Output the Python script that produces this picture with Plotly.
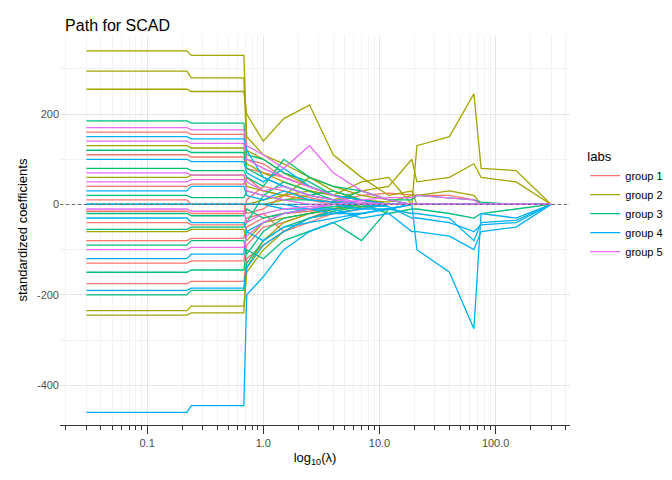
import plotly.graph_objects as go

# lambda grid shared by every path
lam = [0.03, 0.22, 0.24, 0.68, 0.72, 1.0, 1.5, 2.5, 4, 7, 12, 19, 21, 40, 65, 75, 150, 300]

group1 = [
    [-175, -175, -170, -170, -120, -90, -60, -40, -20, -10, 0, 0, 0, 0, 0, 0, 0, 0],
    [110, 110, 105, 105, 80, 70, 60, 40, 20, 10, 0, 0, 0, 0, 0, 0, 0, 0],
    [-130, -130, -125, -125, -90, -50, -40, -20, -10, 0, 0, 0, 0, 0, 0, 0, 0, 0],
    [40, 40, 45, 45, 60, 30, 20, 10, 5, 20, 25, 20, 20, 20, 10, 0, 0, 0],
    [-40, -40, -45, -45, -30, -20, -60, -30, -10, 0, 0, 0, 0, 0, 0, 0, 0, 0],
    [10, 10, 0, 0, -20, -10, 20, 10, 0, 0, 0, 0, 0, 0, 0, 0, 0, 0],
    [160, 160, 155, 155, 100, 90, 60, 40, 20, 10, 0, 0, 0, 0, 0, 0, 0, 0],
    [-80, -80, -75, -75, -50, -30, -20, -15, -10, 0, 0, 0, 0, 0, 0, 0, 0, 0],
    [-15, -15, -20, -20, 10, 40, 30, 15, 5, 0, 0, 0, 0, 0, 0, 0, 0, 0],
]
group2 = [
    [340, 340, 330, 330, 150, 110, 90, 60, 40, 20, 10, 0, 0, 0, 0, 0, 0, 0],
    [295, 295, 280, 280, 120, 100, 70, 40, 20, 10, 0, 0, 0, 0, 0, 0, 0, 0],
    [255, 255, 250, 250, 200, 140, 190, 220, 110, 60, 20, 30, 0, 0, 0, 0, 0, 0],
    [0, 0, 0, 0, 0, 10, 20, 30, 20, 50, 60, 0, 130, 150, 245, 80, 75, 0],
    [0, 0, 0, 0, 0, 0, 10, 20, 10, 30, 40, 100, 50, 60, 90, 60, 50, 0],
    [-235, -235, -225, -225, -150, -100, -60, -30, -20, -10, 0, 0, 0, 0, 0, 0, 0, 0],
    [-245, -245, -240, -240, -140, -80, -40, -20, -10, 0, 0, 0, 0, 0, 0, 0, 0, 0],
    [60, 60, 65, 65, 40, 30, 20, 60, 30, 10, 0, 0, 0, 0, 0, 0, 0, 0],
    [-60, -60, -55, -55, -80, -40, -30, -20, -10, -5, 0, 0, 0, 0, 0, 0, 0, 0],
    [130, 130, 125, 125, 90, 70, 50, 30, 20, 10, 5, 20, 20, 30, 20, 0, 0, 0],
]
group3 = [
    [185, 185, 180, 180, 110, 100, 70, 50, 20, 10, 0, 0, 0, 0, 0, 0, 0, 0],
    [-200, -200, -190, -190, -130, -80, -50, -30, -15, -5, 0, 0, 0, 0, 0, 0, 0, 0],
    [-150, -150, -145, -145, -100, -120, -80, -60, -40, -80, -10, 0, 0, 0, 0, 0, 0, 0],
    [80, 80, 75, 75, 60, 40, 100, 60, 40, 30, 10, 10, 20, 15, 10, 5, 0, 0],
    [-90, -90, -80, -80, -110, -60, -30, -20, -10, 0, -20, -10, -10, -20, -30, -20, -10, 0],
    [20, 20, 15, 15, 30, 20, 10, 10, 5, 30, 10, 0, 0, 0, 0, 0, 0, 0],
    [120, 120, 115, 115, 80, 60, 40, 20, 30, 10, 0, 0, 0, 0, 0, 0, 0, 0],
    [-20, -20, -25, -25, -10, -30, -20, -10, -5, 0, 0, 0, 0, 0, 0, 0, 0, 0],
    [-55, -55, -50, -50, -40, 20, 50, 30, 10, 0, 0, 0, 0, 0, 0, 0, 0, 0],
]
group4 = [
    [-460, -460, -445, -445, -200, -160, -100, -60, -40, -20, -10, 0, 0, 0, 0, 0, 0, 0],
    [0, 0, 0, 0, 0, 0, -10, -10, -20, -20, -10, 0, -100, -150, -275, -20, -30, 0],
    [0, 0, 0, 0, 0, 0, 0, -10, -10, -30, -20, -60, -60, -70, -100, -60, -50, 0],
    [-190, -190, -185, -185, -140, -90, -60, -30, -20, -10, 0, 0, 0, 0, 0, 0, 0, 0],
    [-120, -120, -110, -110, -60, -80, -50, -40, -30, -20, -10, 0, 0, 0, 0, 0, 0, 0],
    [100, 100, 95, 95, 70, 50, 80, 40, 20, 10, 0, 0, 0, 0, 0, 0, 0, 0],
    [30, 30, 40, 40, 20, 10, 30, 10, 5, 0, 0, 0, 0, 0, 0, 0, 0, 0],
    [-30, -30, -40, -40, -60, -40, -20, -10, 0, 0, -5, -30, -30, -40, -60, -45, -40, 0],
    [150, 150, 145, 145, 120, 60, 40, 20, 10, 0, 0, 0, 0, 0, 0, 0, 0, 0],
    [0, 0, 0, 0, 0, 0, 0, 0, 0, -10, -10, -20, -20, -30, -80, -40, -35, 0],
]
group5 = [
    [170, 170, 165, 165, 130, 110, 80, 130, 70, 30, 10, 0, 0, 0, 0, 0, 0, 0],
    [140, 140, 135, 135, 100, 80, 60, 40, 20, 0, 0, 0, 0, 0, 0, 0, 0, 0],
    [-100, -100, -95, -95, -70, -40, -20, -10, 0, 0, 0, 0, 0, 0, 0, 0, 0, 0],
    [70, 70, 65, 65, 50, 30, 40, 20, 10, 5, 0, 0, 0, 0, 0, 0, 0, 0],
    [-10, -10, -15, -15, -40, -20, -10, -5, 0, 0, 0, 0, 0, 0, 0, 0, 0, 0],
    [50, 50, 55, 55, 30, 20, 10, 0, 0, 10, 15, 15, 20, 15, 10, 0, 0, 0],
]

groups = [("group 1", group1, "#F8766D"), ("group 2", group2, "#A3A500"),
          ("group 3", group3, "#00BF7D"), ("group 4", group4, "#00B0F6"),
          ("group 5", group5, "#E76BF3")]

fig = go.Figure()
for name, paths, col in groups:
    for i, p in enumerate(paths):
        fig.add_trace(go.Scatter(x=lam, y=p, mode="lines", name=name, legendgroup=name,
                                 showlegend=(i == 0), line=dict(color=col, width=1.3)))

fig.add_hline(y=0, line=dict(color="#666666", width=1, dash="dot"))

fig.update_layout(
    width=672, height=480, template="none", plot_bgcolor="white", paper_bgcolor="white",
    margin=dict(l=52, r=107, t=27, b=63),
    font=dict(family="Liberation Sans, Arial", size=11, color="#4d4d4d"),
    title=dict(text="Path for SCAD", x=0.085, y=0.975, font=dict(size=16, color="black")),
    legend=dict(title=dict(text="labs", font=dict(size=13, color="black")), x=1.03, y=0.72,
                font=dict(size=11, color="black"), tracegroupgap=0),
)
fig.update_xaxes(type="log", range=[-1.75, 2.64], tickvals=[0.1, 1, 10, 100],
                 ticktext=["0.1", "1.0", "10.0", "100.0"], showgrid=True, gridcolor="#e6e6e6",
                 zeroline=False, showline=True, linecolor="#333333", mirror=False,
                 ticks="outside", ticklen=8, tickcolor="#333333",
                 minor=dict(ticks="outside", ticklen=4, tickcolor="#333333", showgrid=True,
                            gridcolor="#f3f3f3", dtick="D1"),
                 title=dict(text="log<sub>10</sub>(λ)", standoff=4,
                            font=dict(size=13, color="black")))
fig.update_yaxes(range=[-488, 375], tickvals=[-400, -200, 0, 200],
                 ticktext=["-400", "-200", "0", "200"], showgrid=True,
                 gridcolor="#e6e6e6", zeroline=False, showline=False, ticks="",
                 minor=dict(showgrid=True, gridcolor="#f3f3f3", dtick=100),
                 title=dict(text="standardized coefficients", standoff=6,
                            font=dict(size=13, color="black")))

fig.write_html("out.html")
